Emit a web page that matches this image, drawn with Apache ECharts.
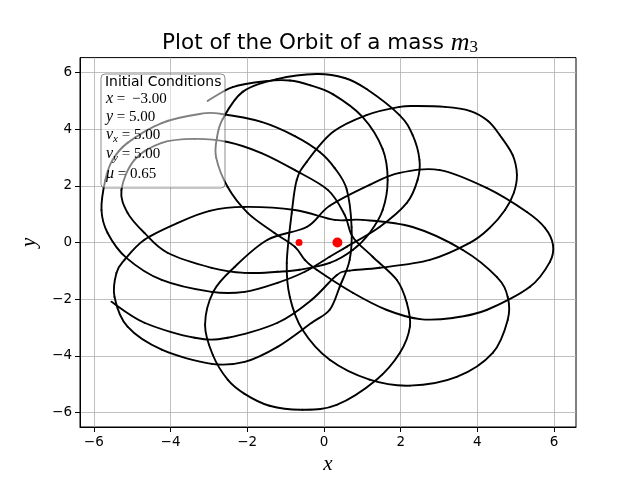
<!DOCTYPE html>
<html>
<head>
<meta charset="utf-8">
<script src="https://cdn.jsdelivr.net/npm/echarts@6/dist/echarts.min.js"></script>
<style>html,body{margin:0;padding:0;background:#fff}#c{width:640px;height:480px}</style>
</head>
<body>
<div id="c"></div>
<script>
// Tick values
const xTicks = [-6, -4, -2, 0, 2, 4, 6];
const yTicks = [-6, -4, -2, 0, 2, 4, 6];

// Masses (x positions on y = 0)
const bigMass = [[0.35, 0]];
const smallMass = [[-0.65, 0]];

// Orbit (x, y)
const lobe1 = [[-3.03,5.00],[-2.38,5.49],[-1.50,5.70],[-0.89,5.72],[-0.35,5.55],[0.23,5.24],[1.01,4.43],[1.53,3.30],[1.66,2.21],[1.53,1.15],[1.19,0.34],[0.75,-0.26],[0.15,-0.72]];
const lobe2 = [[-0.63,-0.96],[-1.21,-1.03],[-2.07,-1.07],[-2.93,-0.89],[-4.08,-0.36],[-4.68,0.34],[-5.12,1.05],[-5.28,1.86],[-4.94,2.92],[-4.23,3.52],[-3.37,3.66],[-2.51,3.55],[-1.63,3.16],[-0.76,2.56],[0.10,1.86]];
const lobe3 = [[0.54,0.98],[0.75,0.20],[1.27,-0.50],[1.90,-1.32],[2.16,-2.13],[2.24,-2.97],[1.98,-3.89],[1.37,-4.84],[0.33,-5.73],[-0.56,-5.90],[-1.42,-5.76],[-2.07,-5.34],[-2.51,-4.84],[-2.90,-3.96],[-3.10,-2.90],[-2.88,-1.72],[-2.33,-0.86],[-1.47,0.10],[-0.45,0.55],[0.15,1.30],[1.19,2.04]];
const lobe4 = [[1.97,2.46],[3.02,2.56],[4.24,1.93],[5.29,1.08],[5.76,0.52],[5.97,-0.08],[5.89,-0.68],[5.37,-1.56],[4.24,-2.38],[3.36,-2.66],[2.50,-2.70],[1.64,-2.38],[0.75,-1.77],[-0.19,-0.96]];
const lobe5 = [[-0.50,-0.61],[-0.76,-0.15],[-1.29,0.34],[-1.99,1.05],[-2.51,1.96],[-2.81,3.00],[-2.79,3.70],[-2.64,4.36],[-2.12,5.32],[-1.23,5.77],[-0.19,5.95],[0.54,5.81],[1.11,5.42],[1.97,4.50],[2.31,3.80],[2.49,2.92],[2.44,2.21],[2.16,1.40],[1.45,0.55],[0.59,-0.15],[0.15,-0.50]];
const lobe6 = [[-0.50,-1.03],[-1.21,-1.42],[-2.07,-1.74],[-2.93,-1.74],[-4.23,-1.32],[-5.15,-0.54],[-5.64,0.34],[-5.80,1.15],[-5.70,2.21],[-5.51,2.92],[-5.12,3.52],[-4.23,4.22],[-3.24,4.54],[-2.67,4.54],[-1.63,4.26],[-0.76,3.76],[-0.11,3.20],[0.28,2.63],[0.59,1.89],[0.72,0.55],[0.67,-0.61],[0.41,-1.56],[0.15,-2.37]];
const lobe7 = [[-0.32,-2.83],[-1.21,-3.68],[-2.07,-4.21],[-2.93,-4.28],[-4.23,-3.78],[-5.12,-2.97],[-5.46,-1.92],[-5.41,-1.07],[-5.20,-0.61],[-4.68,0.10],[-3.82,0.69],[-2.98,1.12],[-2.07,1.26],[-0.76,1.15],[0.28,0.80]];
const lobe8 = [[1.01,0.80],[2.31,0.55],[3.62,-0.26],[4.51,-1.22],[4.79,-1.92],[4.79,-2.73],[4.40,-3.89],[3.46,-4.74],[2.24,-5.05],[1.19,-4.84],[0.15,-4.14],[-0.56,-3.08],[-0.89,-1.92],[-0.97,-0.72],[-0.84,1.05],[-0.71,2.21]];
const lobe9 = [[-0.45,2.85],[0.23,3.90],[1.11,4.50],[1.97,4.79],[2.44,4.82],[3.15,4.79],[3.80,4.65],[4.27,4.30],[4.58,3.80],[4.92,3.09],[5.03,2.39],[4.95,1.76],[4.72,1.15],[4.32,0.52],[3.80,-0.01],[2.76,-0.61],[1.45,-0.89],[0.67,-0.99]];
const lobe10 = [[0.33,-1.15],[-0.32,-2.02],[-1.21,-2.83],[-2.51,-3.36],[-3.37,-3.36],[-4.68,-2.83],[-5.54,-2.09]];

const orbit = [].concat(lobe1, lobe2, lobe3, lobe4, lobe5, lobe6, lobe7, lobe8, lobe9, lobe10);

const fmt = v => (v < 0 ? '\u2212' + (-v) : '' + v);
const serif = 'Liberation Serif';

// Draws the segment from point i to i+1 as a Catmull-Rom curve, positioned by the chart's own axes
function renderOrbit(params, api) {
  const i = params.dataIndex;
  const n = orbit.length;
  if (i >= n - 1) return null;
  const p0 = api.coord(orbit[Math.max(i - 1, 0)]);
  const p1 = api.coord(orbit[i]);
  const p2 = api.coord(orbit[i + 1]);
  const p3 = api.coord(orbit[Math.min(i + 2, n - 1)]);
  const k = 1 / 6;
  return {
    type: 'bezierCurve',
    shape: {
      x1: p1[0], y1: p1[1], x2: p2[0], y2: p2[1],
      cpx1: p1[0] + (p2[0] - p0[0]) * k, cpy1: p1[1] + (p2[1] - p0[1]) * k,
      cpx2: p2[0] - (p3[0] - p1[0]) * k, cpy2: p2[1] - (p3[1] - p1[1]) * k
    },
    style: {stroke: '#000', lineWidth: 1.9, fill: null, lineCap: 'round'}
  };
}

const chart = echarts.init(document.getElementById('c'), null, {renderer: 'canvas'});
chart.setOption({
  animation: false,
  backgroundColor: '#ffffff',
  title: {
    text: 'Plot of the Orbit of a mass {m|m}{s|3}',
    left: 'center',
    top: 25,
    textStyle: {
      fontFamily: 'DejaVu Sans', fontSize: 21.5, fontWeight: 'normal', color: '#000',
      lineHeight: 26,
      rich: {
        m: {fontFamily: serif, fontStyle: 'italic', fontSize: 26, color: '#000', lineHeight: 26},
        s: {fontFamily: serif, fontSize: 17, color: '#000', lineHeight: 15, verticalAlign: 'bottom'}
      }
    }
  },
  grid: {left: 80, right: 64, top: 57.6, bottom: 52.8, show: true, borderColor: '#000', borderWidth: 1, backgroundColor: 'transparent'},
  xAxis: {
    type: 'value', min: -6.36, max: 6.57,
    axisLine: {show: true, onZero: false, lineStyle: {color: '#000', width: 1}},
    axisTick: {show: true, customValues: xTicks, length: 5, inside: false, lineStyle: {color: '#000', width: 1}},
    axisLabel: {customValues: xTicks, formatter: fmt, color: '#000', fontSize: 13.5, fontFamily: 'DejaVu Sans', margin: 8},
    splitLine: {show: true, lineStyle: {color: '#b0b0b0', width: 0.8}},
    name: 'x', nameLocation: 'middle', nameGap: 27,
    nameTextStyle: {fontFamily: serif, fontStyle: 'italic', fontSize: 21, color: '#000'}
  },
  yAxis: {
    type: 'value', min: -6.51, max: 6.53,
    axisLine: {show: true, onZero: false, lineStyle: {color: '#000', width: 1}},
    axisTick: {show: true, customValues: yTicks, length: 5, inside: false, lineStyle: {color: '#000', width: 1}},
    axisLabel: {customValues: yTicks, formatter: fmt, color: '#000', fontSize: 13.5, fontFamily: 'DejaVu Sans', margin: 8},
    splitLine: {show: true, lineStyle: {color: '#b0b0b0', width: 0.8}},
    name: 'y', nameLocation: 'middle', nameGap: 40, nameRotate: 90,
    nameTextStyle: {fontFamily: serif, fontStyle: 'italic', fontSize: 21, color: '#000'}
  },
  series: [
    {type: 'custom', data: orbit, encode: {x: 0, y: 1}, renderItem: renderOrbit, z: 2, silent: true, clip: true},
    {type: 'scatter', data: bigMass, symbolSize: 10, itemStyle: {color: '#ff0000', opacity: 1}, z: 3},
    {type: 'scatter', data: smallMass, symbolSize: 7, itemStyle: {color: '#ff0000', opacity: 1}, z: 3}
  ],
  graphic: [
    {type: 'rect', z: 50, shape: {x: 101, y: 74, width: 124, height: 114, r: 4},
     style: {fill: 'rgba(255,255,255,0.5)', stroke: 'rgba(0,0,0,0.45)', lineWidth: 1}},
    {type: 'text', z: 51, x: 105, y: 82, style: {text: 'Initial Conditions', font: '13.9px "DejaVu Sans"', fill: '#000', verticalAlign: 'middle'}},
    {type: 'text', z: 51, x: 106, y: 99, style: {
      text: '{i|x} = \u2009\u22123.00', verticalAlign: 'middle', fill: '#000', font: '15px "Liberation Serif"',
      rich: {i: {fontFamily: serif, fontStyle: 'italic', fontSize: 16}}}},
    {type: 'text', z: 51, x: 106, y: 117, style: {
      text: '{i|y} = 5.00', verticalAlign: 'middle', fill: '#000', font: '15px "Liberation Serif"',
      rich: {i: {fontFamily: serif, fontStyle: 'italic', fontSize: 16}}}},
    {type: 'text', z: 51, x: 106, y: 135, style: {
      text: '{i|v}{s|x} = 5.00', verticalAlign: 'middle', fill: '#000', font: '15px "Liberation Serif"',
      rich: {i: {fontFamily: serif, fontStyle: 'italic', fontSize: 16, lineHeight: 20},
             s: {fontFamily: serif, fontStyle: 'italic', fontSize: 11, lineHeight: 10, verticalAlign: 'bottom'}}}},
    {type: 'text', z: 51, x: 106, y: 154, style: {
      text: '{i|v}{s|y} = 5.00', verticalAlign: 'middle', fill: '#000', font: '15px "Liberation Serif"',
      rich: {i: {fontFamily: serif, fontStyle: 'italic', fontSize: 16, lineHeight: 20},
             s: {fontFamily: serif, fontStyle: 'italic', fontSize: 11, lineHeight: 10, verticalAlign: 'bottom'}}}},
    {type: 'text', z: 51, x: 106, y: 174, style: {
      text: '{i|\u03bc} = 0.65', verticalAlign: 'middle', fill: '#000', font: '15px "Liberation Serif"',
      rich: {i: {fontFamily: serif, fontStyle: 'italic', fontSize: 16}}}}
  ]
});
</script>
</body>
</html>
